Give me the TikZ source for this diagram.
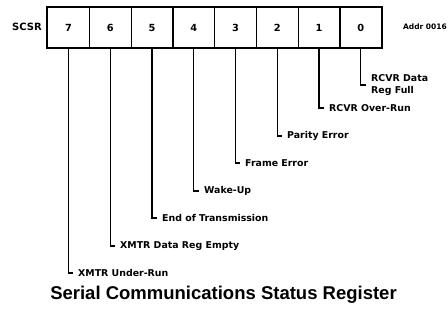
\documentclass[tikz,border=0pt]{standalone}
\usepackage{fontspec}
\setmainfont{DejaVu Sans}
\newfontfamily\titlefont{Liberation Sans}
\begin{document}
\begin{tikzpicture}[x=1pt,y=-1pt,
  cell/.style={draw,line width=1.3pt,minimum width=41.75pt,minimum height=40pt,
    inner sep=0pt,anchor=north west,font=\fontsize{9.8}{11}\selectfont\bfseries},
  lab/.style={anchor=west,inner sep=0pt,align=left,
    font=\fontsize{9.4}{12}\selectfont\bfseries},
  lead/.style={line width=1.1pt}]
  \useasboundingbox (0,0) rectangle (448,320);
  % register cells, bit 7 on the left
  \foreach \b [count=\i from 0] in {7,6,5,4,3,2,1,0}
    \node[cell] (b\b) at (47+41.75*\i,7) {\b};
  \draw[line width=1.8pt] (b7.north west) rectangle (b0.south east);
  \node[font=\fontsize{10}{12}\selectfont\bfseries] (reg) at (27,27) {SCSR};
  \node[font=\fontsize{7.5}{9}\selectfont\bfseries] (addr) at (425,27) {Addr 0016};
  % bit descriptions
  \node[lab] (l0) at (371,85) {RCVR Data\\Reg Full};
  \node[lab] (l1) at (329,108) {RCVR Over-Run};
  \node[lab] (l2) at (287,136) {Parity Error};
  \node[lab] (l3) at (245,163) {Frame Error};
  \node[lab] (l4) at (204,191) {Wake-Up};
  \node[lab] (l5) at (162,218) {End of Transmission};
  \node[lab] (l6) at (120,246) {XMTR Data Reg Empty};
  \node[lab] (l7) at (78,273) {XMTR Under-Run};
  \foreach \b in {0,...,7}
    \draw[lead] (b\b.south) |- ([xshift=-5pt]l\b.west);
  \node[font=\titlefont\fontsize{18.5}{22}\selectfont\bfseries] (title) at (223.5,295)
    {Serial Communications Status Register};
\end{tikzpicture}
\end{document}
